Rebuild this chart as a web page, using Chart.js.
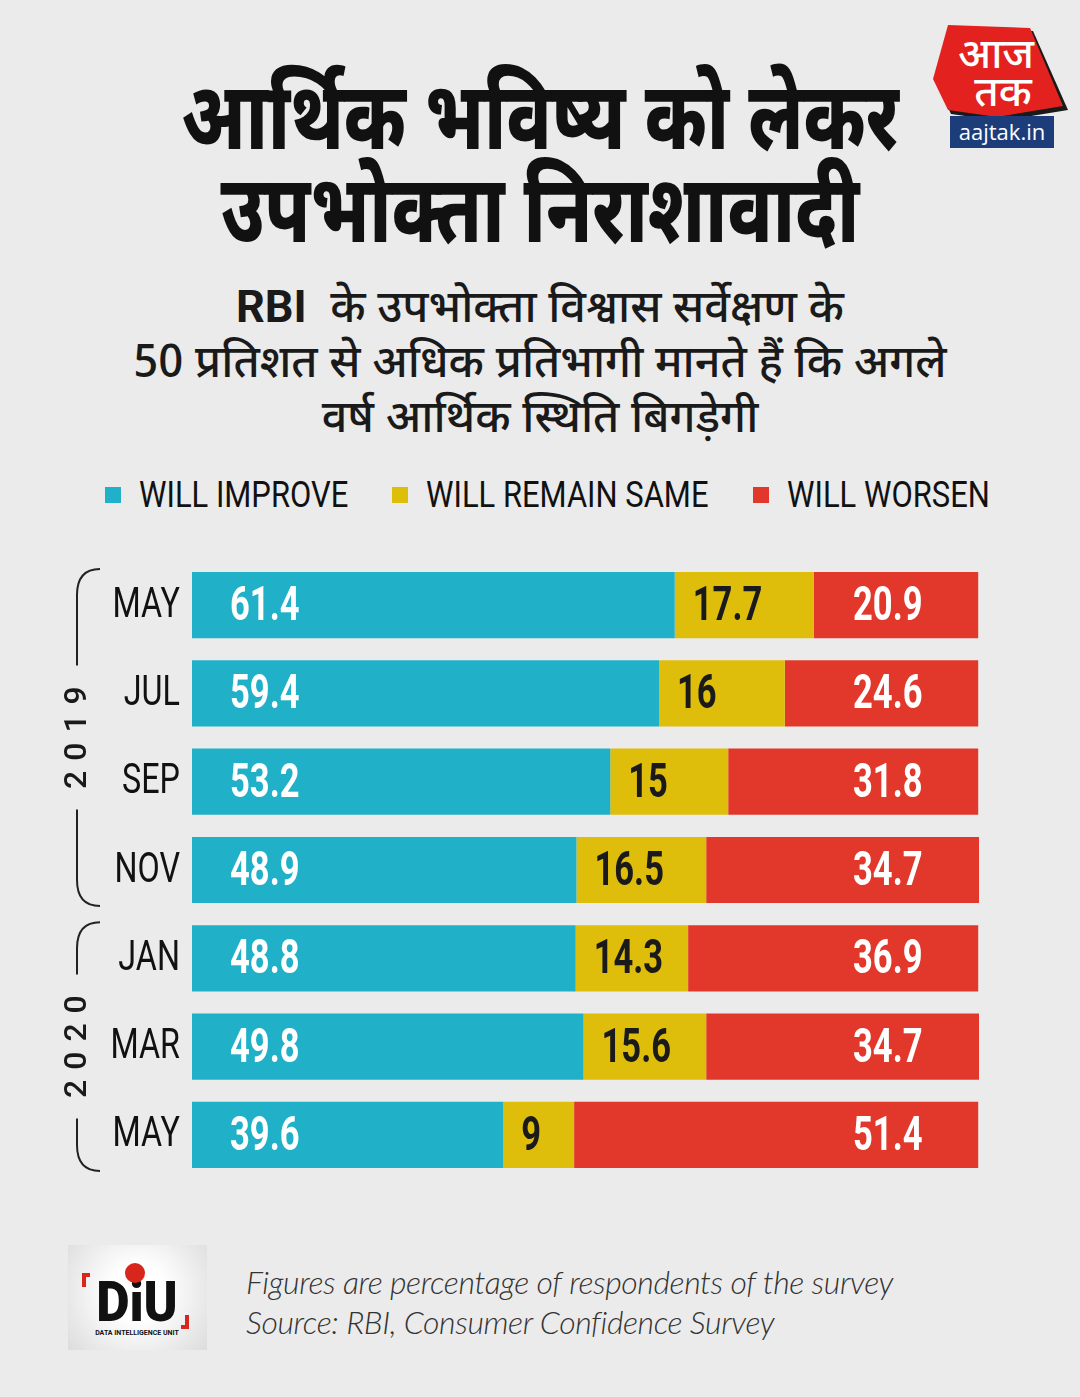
<!DOCTYPE html>
<html lang="hi">
<head>
<meta charset="utf-8">
<title>आर्थिक भविष्य को लेकर उपभोक्ता निराशावादी</title>
<script src="https://cdn.jsdelivr.net/npm/chart.js@4.4.1/dist/chart.umd.min.js"></script>
<style>
  html, body { margin: 0; padding: 0; }
  body {
    width: 1080px; height: 1397px; position: relative; overflow: hidden;
    background: #ebebeb; font-family: Roboto, "Noto Sans", sans-serif; color: #111;
  }
  .title {
    position: absolute; left: 0; width: 1080px; top: 80px; text-align: center;
    font-family: "Noto Sans Devanagari", "Noto Sans", sans-serif; font-weight: 800;
    font-size: 94px; line-height: 93px; color: #111;
    transform: scaleX(0.78); transform-origin: 540px 0;
  }
  .subtitle {
    position: absolute; left: 0; width: 1080px; top: 279px; text-align: center;
    font-family: "Noto Sans Devanagari", "Noto Sans", sans-serif; font-weight: 500;
    font-size: 45px; line-height: 55px; color: #1a1a1a;
  }
  .subtitle b { font-family: Roboto, sans-serif; font-weight: 700; }
  #legend {
    position: absolute; left: 105px; top: 474px; display: flex; align-items: center;
    white-space: nowrap; font-family: Roboto, sans-serif; font-size: 36px; color: #111;
  }
  #legend .item { display: flex; align-items: center; margin-right: 44px; }
  #legend .box { width: 16px; height: 16px; margin-right: 18px; flex: none; }
  #legend .txt { display: inline-block; transform: scaleX(0.86); transform-origin: 0 50%; }
  .chart-wrap { position: absolute; left: 0; top: 550px; width: 1080px; height: 640px; }
  .footer {
    position: absolute; left: 246px; top: 1262px; font-family: Lato, sans-serif;
    font-style: italic; font-weight: 300; font-size: 32px; line-height: 40px; color: #333;
    letter-spacing: -0.4px; white-space: nowrap;
  }
  .diu {
    position: absolute; left: 68px; top: 1245px; width: 139px; height: 105px;
    background: radial-gradient(circle at 50% 45%, #ffffff 30%, #dcdcdc 100%);
  }
  .logo { position: absolute; left: 928px; top: 20px; }
</style>
</head>
<body>
<div class="title">आर्थिक भविष्य को लेकर<br>उपभोक्ता निराशावादी</div>
<div class="subtitle"><b>RBI</b>&nbsp; के उपभोक्ता विश्वास सर्वेक्षण के<br>50 प्रतिशत से अधिक प्रतिभागी मानते हैं कि अगले<br>वर्ष आर्थिक स्थिति बिगड़ेगी</div>

<svg class="logo" width="145" height="135" viewBox="928 20 145 135">
  <polygon points="951,28 1033,31 1068,110 1000,121 951,114 936,82" fill="#1a1a1a"/>
  <polygon points="948,25 1030,28 1063,106 997,117 948,110 933,79" fill="#e3211e"/>
  <text x="996" y="68" text-anchor="middle" fill="#fff" font-family="'Noto Sans Devanagari', sans-serif" font-size="42" font-weight="500">आज</text>
  <text x="1003" y="106" text-anchor="middle" fill="#fff" font-family="'Noto Sans Devanagari', sans-serif" font-size="42" font-weight="500">तक</text>
  <rect x="950" y="116" width="104" height="32" fill="#1d3d7a"/>
  <text x="1002" y="140" text-anchor="middle" fill="#fff" font-family="'Open Sans', sans-serif" font-size="22">aajtak.in</text>
</svg>

<div id="legend"></div>
<div class="chart-wrap"><canvas id="chart"></canvas></div>

<div class="diu">
  <svg width="139" height="105" viewBox="0 0 139 105">
    <path d="M22 30 h-6 v12 M119 70 v12 h-6" stroke="#d9261c" stroke-width="4" fill="none"/>
    <text x="69" y="76" text-anchor="middle" font-family="Roboto, sans-serif" font-weight="900" font-size="56" fill="#111" transform="translate(69 0) scale(0.92 1) translate(-69 0)">DiU</text>
    <circle cx="67" cy="28" r="10" fill="#d9261c"/>
    <text x="69" y="90" text-anchor="middle" font-family="Roboto, sans-serif" font-weight="700" font-size="7" fill="#111">DATA INTELLIGENCE UNIT</text>
  </svg>
</div>
<div class="footer">Figures are percentage of respondents of the survey<br>Source: RBI, Consumer Confidence Survey</div>

<script>
// --- DADOS ---
const months = ['MAY', 'JUL', 'SEP', 'NOV', 'JAN', 'MAR', 'MAY'];
const years = ['2019', '2019', '2019', '2019', '2020', '2020', '2020'];
const seriesNames = ['WILL IMPROVE', 'WILL REMAIN SAME', 'WILL WORSEN'];
const improve = [61.4, 59.4, 53.2, 48.9, 48.8, 49.8, 39.6];
const remainSame = [17.7, 16, 15, 16.5, 14.3, 15.6, 9];
const worsen = [20.9, 24.6, 31.8, 34.7, 36.9, 34.7, 51.4];

const barColors = ['#20b1c8', '#dfbd0b', '#e2382b'];
const labelColors = ['#ffffff', '#1a1a1a', '#ffffff'];

// legenda em HTML (texto comprimido na horizontal)
const legendEl = document.getElementById('legend');
seriesNames.forEach((name, i) => {
    const item = document.createElement('div');
    item.className = 'item';
    item.innerHTML = `<span class="box" style="background:${barColors[i]}"></span><span class="txt">${name}</span>`;
    legendEl.appendChild(item);
    const txt = item.querySelector('.txt');
    txt.style.marginRight = (-txt.offsetWidth * 0.14) + 'px';
});

// rótulos do eixo y (meses), desenhados pela escala
const monthLabels = {
    id: 'monthLabels',
    afterDraw(chart) {
        const ctx = chart.ctx;
        const yScale = chart.scales.y;
        ctx.save();
        ctx.font = '400 42px Roboto';
        ctx.fillStyle = '#111';
        ctx.textAlign = 'right';
        ctx.textBaseline = 'middle';
        yScale.ticks.forEach((t, i) => {
            const y = yScale.getPixelForTick(i);
            ctx.save();
            ctx.translate(chart.chartArea.left - 12, y + 1);
            ctx.scale(0.77, 1);
            ctx.fillText(chart.data.labels[t.value], 0, 0);
            ctx.restore();
        });
        ctx.restore();
    }
};

// rótulos de valor dentro das barras
const valueLabels = {
    id: 'valueLabels',
    afterDatasetsDraw(chart) {
        const ctx = chart.ctx;
        const area = chart.chartArea;
        ctx.save();
        ctx.font = 'bold 48px Roboto';
        ctx.textBaseline = 'middle';
        ctx.textAlign = 'left';
        chart.data.datasets.forEach((ds, i) => {
            chart.getDatasetMeta(i).data.forEach((bar, j) => {
                let x;
                if (i === 0) x = bar.base + 38;
                else if (i === 1) x = bar.base + 18;
                else x = area.right - 126;
                ctx.fillStyle = labelColors[i];
                ctx.save();
                ctx.translate(x, bar.y + 3);
                ctx.scale(0.72, 1);
                ctx.fillText(String(ds.data[j]), 0, 0);
                ctx.restore();
            });
        });
        ctx.restore();
    }
};

// colchetes dos anos à esquerda
const yearBrackets = {
    id: 'yearBrackets',
    afterDraw(chart) {
        const ctx = chart.ctx;
        const bars = chart.getDatasetMeta(0).data;
        const lineX = 77, endX = 100, r = 26;
        const groups = [];
        years.forEach((y, i) => {
            const last = groups[groups.length - 1];
            if (last && last.label === y) last.to = i;
            else groups.push({ label: y, from: i, to: i });
        });
        ctx.save();
        groups.forEach(g => {
            const top = bars[g.from].y - bars[g.from].height / 2 - 3;
            const bottom = bars[g.to].y + bars[g.to].height / 2 + 3;
            const mid = (top + bottom) / 2;
            const gap = 72;
            ctx.strokeStyle = '#222';
            ctx.lineWidth = 2;
            ctx.beginPath();
            ctx.moveTo(endX, top);
            ctx.quadraticCurveTo(lineX, top, lineX, top + r);
            ctx.lineTo(lineX, mid - gap);
            ctx.moveTo(lineX, mid + gap);
            ctx.lineTo(lineX, bottom - r);
            ctx.quadraticCurveTo(lineX, bottom, endX, bottom);
            ctx.stroke();

            ctx.save();
            ctx.translate(lineX, mid);
            ctx.rotate(-Math.PI / 2);
            ctx.font = '500 32px Roboto';
            ctx.letterSpacing = '10px';
            ctx.textAlign = 'center';
            ctx.textBaseline = 'middle';
            ctx.fillStyle = '#1a1a1a';
            ctx.fillText(g.label, 5, 1);
            ctx.restore();
        });
        ctx.restore();
    }
};

const ctx = document.getElementById('chart').getContext('2d');
new Chart(ctx, {
    type: 'bar',
    data: {
        labels: months,
        datasets: [improve, remainSame, worsen].map((values, i) => ({
            label: seriesNames[i],
            data: values,
            backgroundColor: barColors[i],
            borderWidth: 0,
            categoryPercentage: 0.75,
            barPercentage: 1
        }))
    },
    options: {
        indexAxis: 'y',
        responsive: true,
        maintainAspectRatio: false,
        animation: false,
        layout: { padding: { top: 11, bottom: 11, left: 0, right: 101 } },
        plugins: { legend: { display: false }, tooltip: { enabled: false } },
        scales: {
            x: { stacked: true, min: 0, max: 100.1, display: false },
            y: {
                stacked: true,
                grid: { display: false },
                border: { display: false },
                ticks: { display: false },
                afterFit(scale) { scale.width = 192; }
            }
        }
    },
    plugins: [valueLabels, monthLabels, yearBrackets]
});
</script>
</body>
</html>
